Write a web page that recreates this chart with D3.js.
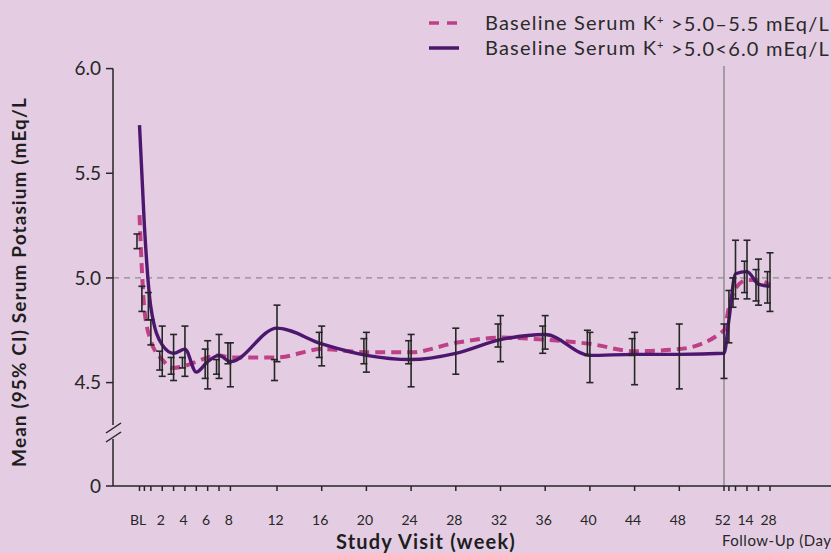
<!DOCTYPE html>
<html>
<head>
<meta charset="utf-8">
<script src="https://cdn.jsdelivr.net/npm/d3@7"></script>
<style>
  body { margin: 0; background: #e4cde3; }
  svg { display: block; font-family: Lato, "Open Sans", sans-serif; }
</style>
</head>
<body>
<div id="chart"></div>
<script>
// visits: main study weeks, then follow-up days
const mainWeeks = [0, 0.43, 1, 2, 3, 4, 5, 6, 7, 8, 12, 16, 20, 24, 28, 32, 36, 40, 44, 48, 52];
const fuDays = [3, 7, 14, 21, 28];

const weekTicks = [0, 0.43, 1, 2, 3, 4, 5, 6, 7, 8, 12, 16, 20, 24, 28, 32, 36, 40, 44, 48, 52];
const weekLabels = ["BL", "", "", "2", "", "4", "", "6", "", "8", "12", "16", "20", "24", "28", "32", "36", "40", "44", "48", "52"];
const fuTicks = [3, 7, 14, 21, 28];
const fuLabels = ["", "", "14", "", "28"];

const yTicks = [4.5, 5.0, 5.5, 6.0];

// >5.0-5.5 mEq/L (dashed)
const dashedMean = [5.30, 4.85, 4.70, 4.61, 4.57, 4.58, 4.60, 4.62, 4.63, 4.62,
  4.62, 4.66, 4.645, 4.645, 4.69, 4.715, 4.705, 4.685, 4.65, 4.66, 4.75,
  4.86, 4.95, 4.99, 4.99, 4.965];
// >5.0<6.0 mEq/L (solid)
const solidMean = [5.73, 5.25, 4.86, 4.68, 4.64, 4.66, 4.55, 4.60, 4.63, 4.60,
  4.76, 4.685, 4.63, 4.61, 4.64, 4.705, 4.73, 4.63, 4.635, 4.635, 4.64,
  4.80, 5.02, 5.03, 4.97, 4.96];

// 95% CI bars (narrow set / wide set)
const ciALo = [5.14, 4.84, 4.80, 4.56, 4.54, 4.57, null, 4.52, 4.54, 4.59,
  4.51, 4.62, 4.59, 4.59, null, 4.67, 4.64, 4.63, 4.63, null, null,
  null, 4.86, 4.93, 4.89, 4.88];
const ciAHi = [5.21, 4.96, 4.93, 4.65, 4.62, 4.62, null, 4.66, 4.61, 4.69,
  4.61, 4.74, 4.71, 4.70, null, 4.78, 4.77, 4.75, 4.71, null, null,
  null, 5.00, 5.08, 5.04, 5.03];
const ciBLo = [null, null, 4.68, 4.53, 4.51, 4.53, null, 4.47, 4.52, 4.48,
  4.60, 4.58, 4.55, 4.48, 4.54, 4.60, 4.66, 4.50, 4.49, 4.47, 4.52,
  4.69, 4.90, 4.90, 4.87, 4.84];
const ciBHi = [null, null, 4.80, 4.77, 4.73, 4.77, null, 4.70, 4.73, 4.69,
  4.87, 4.77, 4.74, 4.73, 4.76, 4.82, 4.82, 4.74, 4.74, 4.78, 4.78,
  4.94, 5.18, 5.18, 5.09, 5.12];

const width = 831;
const height = 553;
const axisX = 113;
const baseY = 486;

const bg = "#e4cde3";
const solidColor = "#4d176f";
const dashedColor = "#be4187";
const ink = "#262626";

const svg = d3.select("#chart").append("svg")
  .attr("width", width)
  .attr("height", height);

svg.append("rect").attr("width", width).attr("height", height).attr("fill", bg);

const y = d3.scaleLinear().domain([4.5, 6.0]).range([382.6, 68.6]);
const xWeek = d3.scaleLinear().domain([0, 8, 12, 52]).range([139.5, 230.4, 277, 724]);
const xFU = d3.scaleLinear().domain([0, 28]).range([724, 770]);

const xs = mainWeeks.map(xWeek).concat(fuDays.map(xFU));

// reference line at 5.0
svg.append("line")
  .attr("x1", axisX).attr("x2", width)
  .attr("y1", y(5.0)).attr("y2", y(5.0))
  .attr("stroke", "#8e8a8e").attr("stroke-width", 1.3)
  .attr("stroke-dasharray", "6,5");

// end-of-treatment divider
svg.append("line")
  .attr("x1", xWeek(52)).attr("x2", xWeek(52))
  .attr("y1", 66).attr("y2", baseY)
  .attr("stroke", "#8f8a8f").attr("stroke-width", 1.5);

// lines
const line = d3.line()
  .x((d, i) => xs[i])
  .y(d => y(d))
  .curve(d3.curveMonotoneX);

svg.append("path")
  .attr("d", line(dashedMean))
  .attr("fill", "none")
  .attr("stroke", dashedColor)
  .attr("stroke-width", 4)
  .attr("stroke-dasharray", "10,6");

svg.append("path")
  .attr("d", line(solidMean))
  .attr("fill", "none")
  .attr("stroke", solidColor)
  .attr("stroke-width", 3.4);

// error bars
function errorBars(lo, hi, dx) {
  const data = xs.map((x, i) => ({ x: x + dx, lo: lo[i], hi: hi[i] }))
    .filter(d => d.lo != null);
  const g = svg.append("g")
    .attr("stroke", ink)
    .attr("stroke-width", 1.6);
  g.selectAll(".v").data(data).enter().append("line")
    .attr("x1", d => d.x).attr("x2", d => d.x)
    .attr("y1", d => y(d.lo)).attr("y2", d => y(d.hi));
  g.selectAll(".lo").data(data).enter().append("line")
    .attr("x1", d => d.x - 3.5).attr("x2", d => d.x + 3.5)
    .attr("y1", d => y(d.lo)).attr("y2", d => y(d.lo));
  g.selectAll(".hi").data(data).enter().append("line")
    .attr("x1", d => d.x - 3.5).attr("x2", d => d.x + 3.5)
    .attr("y1", d => y(d.hi)).attr("y2", d => y(d.hi));
}
errorBars(ciALo, ciAHi, -2.5);
errorBars(ciBLo, ciBHi, 0);

// y axis (broken)
const axis = svg.append("g").attr("stroke", ink).attr("stroke-width", 1.5);
axis.append("line").attr("x1", axisX).attr("x2", axisX).attr("y1", y(6.0)).attr("y2", 425);
axis.append("line").attr("x1", axisX).attr("x2", axisX).attr("y1", 439).attr("y2", baseY);
axis.append("line").attr("x1", 106).attr("x2", 121).attr("y1", 433).attr("y2", 423);
axis.append("line").attr("x1", 106).attr("x2", 121).attr("y1", 442).attr("y2", 432);

axis.selectAll(".yt").data(yTicks).enter().append("line")
  .attr("x1", 106).attr("x2", axisX)
  .attr("y1", d => y(d)).attr("y2", d => y(d));
axis.append("line").attr("x1", 106).attr("x2", axisX).attr("y1", baseY).attr("y2", baseY);

svg.selectAll(".ytl").data(yTicks).enter().append("text")
  .attr("x", 101).attr("y", d => y(d))
  .attr("dy", "0.35em")
  .attr("text-anchor", "end")
  .attr("font-size", 19)
  .attr("fill", ink)
  .text(d => d.toFixed(1));
svg.append("text")
  .attr("x", 101).attr("y", baseY).attr("dy", "0.35em")
  .attr("text-anchor", "end").attr("font-size", 19).attr("fill", ink)
  .text("0");

// x axis
axis.append("line").attr("x1", axisX).attr("x2", width).attr("y1", baseY).attr("y2", baseY);
const tickX = weekTicks.map(xWeek).concat(fuTicks.map(xFU));
const tickLab = weekLabels.concat(fuLabels);
axis.selectAll(".xt").data(tickX).enter().append("line")
  .attr("x1", d => d).attr("x2", d => d)
  .attr("y1", baseY).attr("y2", baseY + 5);

svg.selectAll(".xtl").data(tickX).enter().append("text")
  .attr("x", (d, i) => d - 1.5)
  .attr("y", 525)
  .attr("text-anchor", "middle")
  .attr("font-size", 14)
  .attr("fill", ink)
  .text((d, i) => tickLab[i]);

// axis titles
svg.append("text")
  .attr("x", 426).attr("y", 549)
  .attr("text-anchor", "middle")
  .attr("font-size", 20).attr("font-weight", "bold")
  .attr("letter-spacing", 1.2)
  .attr("fill", "#1e1e1e")
  .text("Study Visit (week)");

svg.append("text")
  .attr("x", 722).attr("y", 546)
  .attr("font-size", 15)
  .attr("letter-spacing", 0.5)
  .attr("fill", ink)
  .text("Follow-Up (Days)");

svg.append("text")
  .attr("transform", "translate(26,282) rotate(-90)")
  .attr("text-anchor", "middle")
  .attr("font-size", 19).attr("font-weight", "bold")
  .attr("letter-spacing", 1.1)
  .attr("fill", "#1e1e1e")
  .text("Mean (95% CI) Serum Potasium (mEq/L");

// legend
const legend = svg.append("g");
legend.append("line")
  .attr("x1", 429).attr("x2", 459).attr("y1", 23).attr("y2", 23)
  .attr("stroke", dashedColor).attr("stroke-width", 3.5)
  .attr("stroke-dasharray", "10,8");
legend.append("line")
  .attr("x1", 429).attr("x2", 459).attr("y1", 48).attr("y2", 48)
  .attr("stroke", solidColor).attr("stroke-width", 3.5);

const legendItems = [[23, ">5.0–5.5 mEq/L"], [48, ">5.0<6.0 mEq/L"]];
legendItems.forEach(([ly, tail]) => {
  const t = legend.append("text")
    .attr("x", 485).attr("y", ly).attr("dy", "0.35em")
    .attr("font-size", 20).attr("letter-spacing", 1.2).attr("fill", "#2a2a2a");
  t.append("tspan").text("Baseline Serum K");
  t.append("tspan").attr("font-size", 11).attr("dy", "-0.55em").text("+");
  t.append("tspan").attr("dy", "0.35em").text(" " + tail);
});
</script>
</body>
</html>
